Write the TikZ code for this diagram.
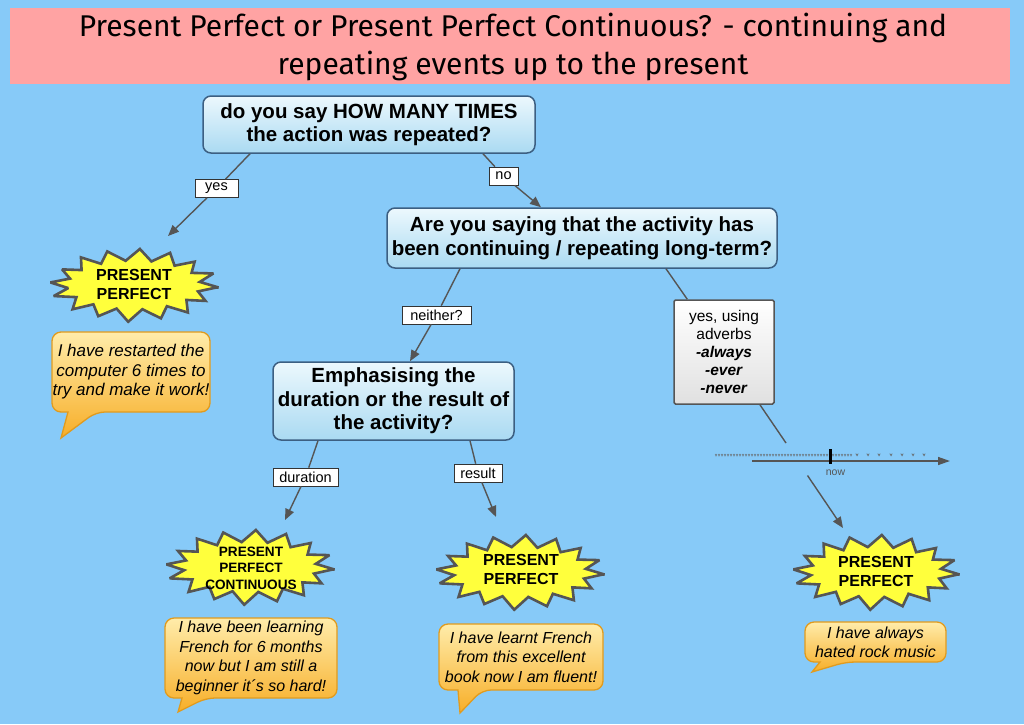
\documentclass[tikz,border=0pt]{standalone}
\usepackage{fontspec}
\setmainfont{Liberation Sans}
\newfontfamily\titlefont{Fira Sans}
\usetikzlibrary{arrows.meta,calc}
\definecolor{bg}{RGB}{135,202,248}
\definecolor{titlepink}{RGB}{255,163,163}
\definecolor{lc}{RGB}{85,85,85}
\definecolor{boxborder}{RGB}{60,95,130}
\definecolor{boxtop}{RGB}{236,248,253}
\definecolor{boxbot}{RGB}{170,218,242}
\definecolor{burstfill}{RGB}{255,255,60}
\definecolor{bubtop}{RGB}{255,236,170}
\definecolor{bubbot}{RGB}{247,174,40}
\definecolor{bubborder}{RGB}{225,155,30}
\newcommand\burst[4]{% cx, cy, a, b
  \draw[burststyle] plot[samples=33, domain=0:32, variable=\k]
    ({#1 + (mod(round(\k),2)==0 ? (#3)*(0.97+0.03*sin(\k*137)) : 0.78*(#3))*cos(\k*360/32+4)},
     {#2 + (mod(round(\k),2)==0 ? (#4)*(0.97+0.03*sin(\k*97)) : 0.66*(#4))*sin(\k*360/32+4)}) -- cycle;
}
\newcommand\bubble[8]{% x1,y1,x2,y2,tailL,tailR,tipx,tipy
  \path[bubblestyle] (#1,#2) [rounded corners=9pt] -- (#3,#2) -- (#3,#4) -- (#6,#4) [sharp corners] -- (#7,#8) -- (#5,#4) [rounded corners=9pt] -- (#1,#4) -- cycle;
}
\begin{document}
\begin{tikzpicture}[x=1pt,y=-1pt,
  qbox/.style={draw=boxborder, line width=1.5pt, rounded corners=8pt, top color=boxtop, bottom color=boxbot,
    font=\fontsize{20.5}{23.5}\selectfont\bfseries, align=center, inner sep=2pt},
  lab/.style={draw=black!80, line width=0.7pt, fill=white, font=\fontsize{14.5}{16}\selectfont, inner sep=1.5pt, minimum height=18pt},
  conn/.style={draw=lc, line width=1.4pt},
  arr/.style={conn, -{Triangle[length=11pt,width=9pt]}},
  burststyle/.style={draw=lc, line width=2.6pt, fill=burstfill, line join=miter, miter limit=2.5},
  bursttext/.style={font=\fontsize{16}{19}\selectfont\bfseries, align=center},
  bubblestyle/.style={draw=bubborder, line width=1.3pt, top color=bubtop, bottom color=bubbot},
  btext/.style={font=\fontsize{16}{19.5}\selectfont\itshape, align=center},
  title/.style={font=\titlefont\fontsize{30}{33}\selectfont}
]
\fill[bg] (0,0) rectangle (1024,724);
\useasboundingbox (0,0) rectangle (1024,724);

% title
\fill[titlepink] (10,8) rectangle (1010,84);
\node[title] (title1) at (513,28) {Present Perfect or Present Perfect Continuous? - continuing and};
\node[title] (title2) at (513,66) {repeating events up to the present};

% question boxes
\node[qbox, minimum width=332pt, minimum height=57pt] (box1) at (369,124.5) {do you say HOW MANY TIMES\\the action was repeated?};
\node[qbox, minimum width=390pt, minimum height=60pt] (box2) at (582,238) {Are you saying that the activity has\\been continuing / repeating long-term?};
\node[qbox, minimum width=241pt, minimum height=78pt] (box3) at (393.5,401) {Emphasising the\\duration or the result of\\the activity?};
\node[draw=lc, line width=1.5pt, rounded corners=1.5pt, top color=white, bottom color=black!12,
      minimum width=100pt, minimum height=104pt, align=center, font=\fontsize{15.5}{18}\selectfont] (adv) at (724,352)
  {yes, using\\adverbs\\\textbf{\textit{-always}}\\\textbf{\textit{-ever}}\\\textbf{\textit{-never}}};

% labels
\node[lab, minimum width=43pt] (yes) at (216.5,188.5) {yes};
\node[lab, minimum width=29pt] (no) at (503.5,176) {no};
\node[lab, minimum width=69pt] (neither) at (436.5,315) {neither?};
\node[lab, minimum width=65pt] (dur) at (305.5,477) {duration};
\node[lab, minimum width=48pt] (res) at (478,473) {result};

% end coordinates
\coordinate (e1) at (168,236);
\coordinate (e5) at (285,520);
\coordinate (e6) at (496,517);
\coordinate (tA) at (786,443);
\coordinate (tB) at (807.5,475.5);
\coordinate (e7) at (843,528);

% connectors
\draw[conn] ([xshift=-119pt]box1.south) -- (yes);
\draw[arr] (yes) -- (e1);
\draw[conn] ([xshift=114pt]box1.south) -- (no);
\draw[arr] (no) -- ([xshift=-41pt]box2.north);
\draw[conn] ([xshift=-122pt]box2.south) -- (neither);
\draw[arr] (neither) -- ([xshift=16.5pt]box3.north);
\draw[conn] ([xshift=84pt]box2.south) -- (adv);
\draw[conn] (adv) -- (tA);
\draw[arr] (tB) -- (e7);
\draw[conn] ([xshift=-75.5pt]box3.south) -- (dur);
\draw[arr] (dur) -- (e5);
\draw[conn] ([xshift=76.5pt]box3.south) -- (res);
\draw[arr] (res) -- (e6);

% timeline
\draw[conn, -{Triangle[length=12pt,width=8pt]}] (752,461) -- (950,461);
\foreach \vx in {716,719,...,851}
  \draw[lc!90, line width=0.5pt] (\vx-0.9,454) -- (\vx,456) -- (\vx+0.9,454);
\foreach \vx in {857,868,879,891,902,913,924}
  \draw[lc!90, line width=0.6pt] (\vx-1.2,453.5) -- (\vx,455.8) -- (\vx+1.2,453.5);
\draw[black, line width=2.6pt] (830.5,449) -- (830.5,464);
\node[font=\fontsize{10.5}{12}\selectfont, text=lc] (now) at (835.5,473) {now};

% starbursts
\burst{134}{285}{85}{37}
\node[bursttext] (pp1) at (134,284) {PRESENT\\PERFECT};
\burst{250}{567}{85}{38}
\node[bursttext, font=\fontsize{13.6}{16.5}\selectfont\bfseries] (ppc) at (251,568) {PRESENT\\PERFECT\\CONTINUOUS};
\burst{520}{572}{85}{38}
\node[bursttext] (pp2) at (521,569) {PRESENT\\PERFECT};
\burst{876}{572}{84}{38}
\node[bursttext] (pp3) at (876,571) {PRESENT\\PERFECT};

% speech bubbles
\bubble{52}{332}{210}{412}{68}{96}{61}{438}
\node[btext, font=\fontsize{17}{19.5}\selectfont\itshape] (q1) at (131,372) {I have restarted the\\computer 6 times to\\try and make it work!};
\bubble{165}{618}{337}{698}{182}{206}{178}{712}
\node[btext] (q2) at (251,658) {I have been learning\\French for 6 months\\now but I am still a\\beginner it\char"00B4 s so hard!};
\bubble{439}{624}{603}{690}{458}{482}{460}{713}
\node[btext] (q3) at (521,657) {I have learnt French\\from this excellent\\book now I am fluent!};
\bubble{805}{622}{946}{662}{820}{846}{812}{672}
\node[btext] (q4) at (875.5,642.5) {I have always\\hated rock music};
\end{tikzpicture}
\end{document}
